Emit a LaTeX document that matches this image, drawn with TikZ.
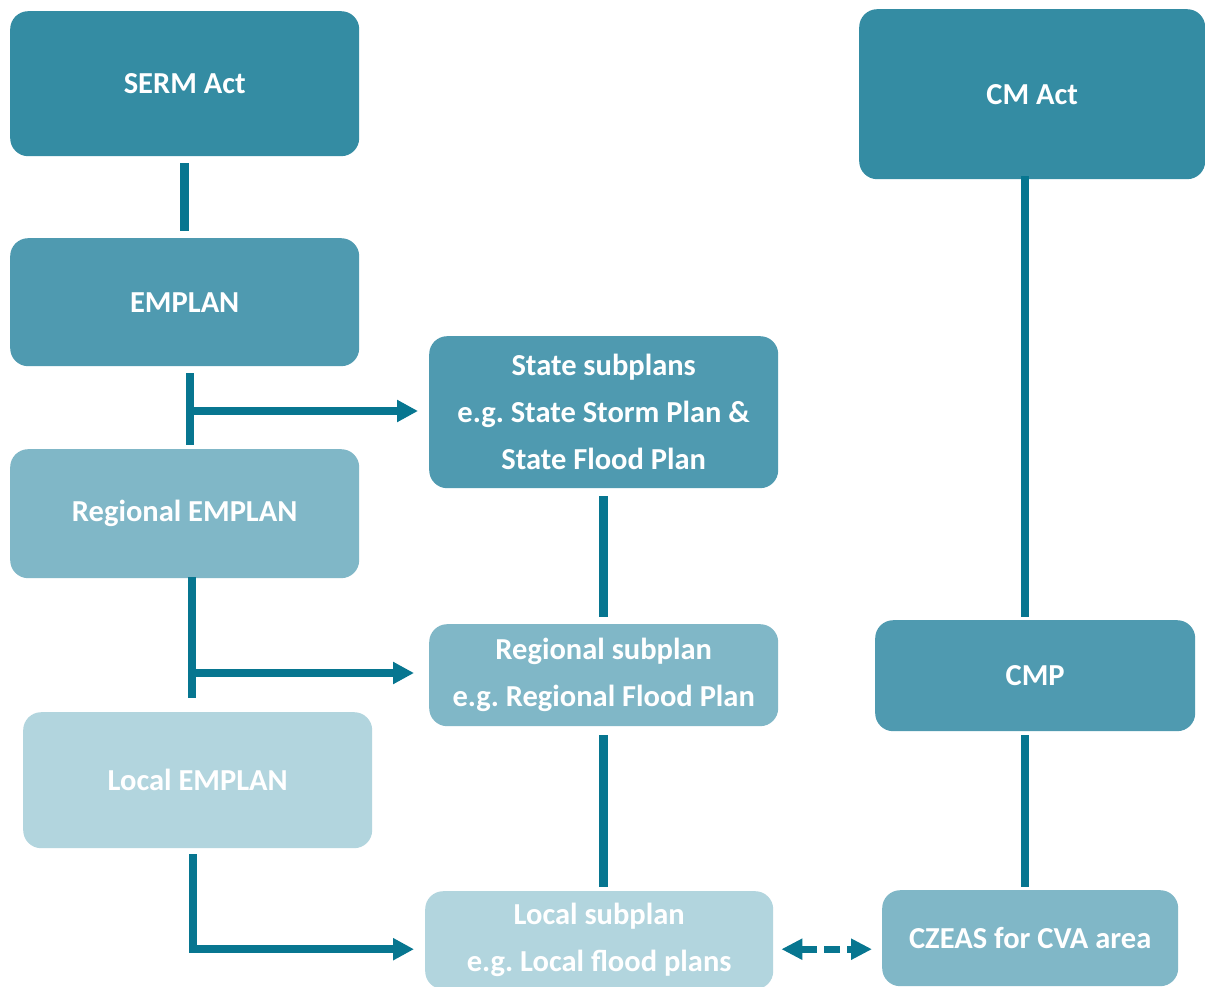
\documentclass[tikz,border=0pt]{standalone}
\usepackage{fontspec}
\setmainfont{Carlito}
\usetikzlibrary{arrows.meta}
\definecolor{tealA}{HTML}{348CA3}
\definecolor{tealB}{HTML}{4F9AB0}
\definecolor{tealC}{HTML}{80B7C7}
\definecolor{tealD}{HTML}{B2D5DE}
\definecolor{linkc}{HTML}{077690}
\frenchspacing
\tikzset{
  plan/.style={rectangle, rounded corners=18pt, draw=none, text=white,
    font=\fontsize{30.5}{47}\selectfont\bfseries, align=center,
    anchor=north west, inner sep=0pt},
  link/.style={draw=linkc, line width=8.5pt},
  arr/.style={link, -{Triangle[length=21pt,width=21pt]}},
  dasharr/.style={draw=linkc, line width=7pt, dash pattern=on 16pt off 7pt,
    {Triangle[length=21pt,width=20pt]}-{Triangle[length=21pt,width=20pt]}},
}
\begin{document}
\begin{tikzpicture}[x=1pt,y=-1pt]
\useasboundingbox (0,0) rectangle (1205,987);
\fill[white] (0,0) rectangle (1205,987);
\begin{scope}
\clip (0,0) rectangle (1205,987);
% left column: emergency management plans
\node[plan, fill=tealA, minimum width=349pt, minimum height=145pt] (serm) at (10,11) {SERM Act};
\node[plan, fill=tealB, minimum width=349pt, minimum height=128pt] (emplan) at (10,238) {EMPLAN};
\node[plan, fill=tealC, minimum width=349pt, minimum height=129pt] (regemplan) at (10,449) {Regional EMPLAN};
\node[plan, fill=tealD, minimum width=349pt, minimum height=136pt] (locemplan) at (23,712) {Local EMPLAN};
% middle column: subplans
\node[plan, fill=tealB, minimum width=349pt, minimum height=152pt] (state) at (429,336) {State subplans\\e.g. State Storm Plan \&\\State Flood Plan};
\node[plan, fill=tealC, minimum width=349pt, minimum height=102pt] (regsub) at (429,624) {Regional subplan\\e.g. Regional Flood Plan};
\node[plan, fill=tealD, minimum width=348pt, minimum height=98pt] (locsub) at (425,891) {Local subplan\\e.g. Local flood plans};
% right column: coastal management
\node[plan, fill=tealA, minimum width=346pt, minimum height=170pt] (cmact) at (859,9) {CM Act};
\node[plan, fill=tealB, minimum width=320pt, minimum height=111pt] (cmp) at (875,620) {CMP};
\node[plan, fill=tealC, minimum width=296pt, minimum height=96pt] (czeas) at (882,890) {CZEAS for CVA area};
\end{scope}

% left column links
\draw[link] ([yshift=-7pt]serm.south) -- ([yshift=7pt]emplan.north);
\draw[link] ([xshift=5.5pt,yshift=-7pt]emplan.south) -- ([xshift=5.5pt,yshift=4pt]regemplan.north);
\coordinate (ebranch) at (190,411);
\draw[arr, shorten >=11pt] (ebranch) -- (ebranch -| state.west);
\draw[link] ([xshift=7.5pt,yshift=1pt]regemplan.south) -- ([xshift=-5.5pt,yshift=14pt]locemplan.north);
\coordinate (rbranch) at (192,673);
\draw[arr, shorten >=15pt] (rbranch) -- (rbranch -| regsub.west);
\draw[arr, line join=miter, shorten >=11pt] ([xshift=-4.5pt,yshift=-6pt]locemplan.south) |- ([yshift=-9pt]locsub.west);

% middle column links
\draw[link] ([yshift=-8pt]state.south) -- ([yshift=7pt]regsub.north);
\draw[link] ([yshift=-9pt]regsub.south) -- ([xshift=4.5pt,yshift=4pt]locsub.north);

% right column links
\draw[link] ([xshift=-7pt,yshift=3pt]cmact.south) -- ([xshift=-10pt,yshift=3pt]cmp.north);
\draw[link] ([xshift=-10pt,yshift=-4pt]cmp.south) -- ([xshift=-5pt,yshift=3pt]czeas.north);

% two-way link between local subplan and CZEAS
\draw[dasharr, shorten <=8pt, shorten >=10pt] ([yshift=-9pt]locsub.east) -- ([yshift=-9pt]locsub.east -| czeas.west);
\end{tikzpicture}
\end{document}
